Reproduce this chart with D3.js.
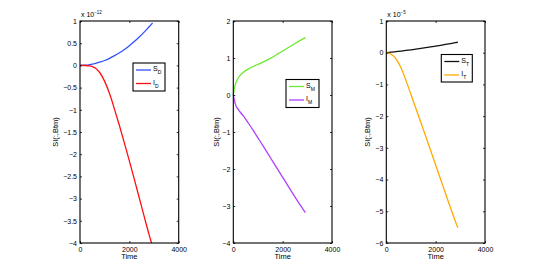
<!DOCTYPE html>
<html>
<head>
<meta charset="utf-8">
<script src="https://cdn.jsdelivr.net/npm/d3@7"></script>
<style>
  body { margin: 0; background: #fff; }
  svg { display: block; font-family: "Liberation Sans", Arial, sans-serif; }
</style>
</head>
<body>
<svg id="chart" width="545" height="273"></svg>
<script>
// panel 1 (x 1e-12)
const timeD = [0, 200, 400, 600, 800, 1000, 1200, 1400, 1600, 1800, 2000, 2200, 2400, 2600, 2800, 2900, 2940];
const sD = [0, 0.004, 0.018, 0.04, 0.072, 0.11, 0.16, 0.22, 0.285, 0.36, 0.445, 0.54, 0.64, 0.75, 0.87, 0.93, 0.96];
const iD = [0, -0.002, -0.012, -0.052, -0.16, -0.36, -0.64, -0.99, -1.36, -1.75, -2.15, -2.56, -2.98, -3.4, -3.81, -4.0, null];

// panel 2
const timeM = [0, 25, 50, 100, 200, 300, 400, 600, 800, 1000, 1200, 1500, 1800, 2100, 2400, 2700, 2920];
const sM = [0, 0.12, 0.2, 0.32, 0.46, 0.55, 0.61, 0.7, 0.77, 0.83, 0.89, 0.99, 1.11, 1.23, 1.35, 1.47, 1.55];
const iM = [0, -0.08, -0.16, -0.28, -0.39, -0.48, -0.56, -0.75, -0.95, -1.16, -1.37, -1.69, -2.01, -2.33, -2.65, -2.96, -3.18];

// panel 3 (x 1e-5)
const timeT = [0, 200, 400, 600, 800, 1000, 1200, 1400, 1600, 1800, 2000, 2200, 2400, 2600, 2800, 2900];
const sT = [0, 0.017, 0.035, 0.053, 0.072, 0.092, 0.113, 0.135, 0.158, 0.182, 0.207, 0.233, 0.26, 0.288, 0.317, 0.332];
const iT = [0, -0.05, -0.2, -0.48, -0.88, -1.32, -1.76, -2.2, -2.64, -3.09, -3.54, -3.99, -4.44, -4.89, -5.32, -5.52];

const xTicks = [0, 2000, 4000];
const yTicksD = [1, 0.5, 0, -0.5, -1, -1.5, -2, -2.5, -3, -3.5, -4];
const yTicksM = [2, 1, 0, -1, -2, -3, -4];
const yTicksT = [1, 0, -1, -2, -3, -4, -5, -6];

const panels = [
  { left: 80, time: timeD, ticks: yTicksD, dom: [-4, 1], exp: "-12",
    series: [{ v: sD, c: "#3050ff", name: "S", sub: "D" }, { v: iD, c: "#ff1010", name: "I", sub: "D" }],
    legend: [133, 63, 32, 28], ylab: 22 },
  { left: 233.3, time: timeM, ticks: yTicksM, dom: [-4, 2], exp: null,
    series: [{ v: sM, c: "#6ee830", name: "S", sub: "M" }, { v: iM, c: "#b040ff", name: "I", sub: "M" }],
    legend: [286, 79.5, 33, 28], ylab: 14 },
  { left: 386.3, time: timeT, ticks: yTicksT, dom: [-6, 1], exp: "-5",
    series: [{ v: sT, c: "#111111", name: "S", sub: "T" }, { v: iT, c: "#ffaa00", name: "I", sub: "T" }],
    legend: [441.3, 54.5, 31, 27.5], ylab: 16 }
];

const svg = d3.select("#chart");
const plotTop = 21, plotBottom = 243, w = 98.7;

panels.forEach(p => {
  const x = d3.scaleLinear().domain([0, 4000]).range([p.left, p.left + w]);
  const y = d3.scaleLinear().domain(p.dom).range([plotBottom, plotTop]);
  const g = svg.append("g");

  // lines
  p.series.forEach(s => {
    const line = d3.line()
      .defined((d, i) => s.v[i] != null)
      .x((d, i) => x(p.time[i]))
      .y((d, i) => y(s.v[i]))
      .curve(d3.curveMonotoneX);
    g.append("path")
      .datum(p.time)
      .attr("d", line)
      .attr("fill", "none")
      .attr("stroke", s.c)
      .attr("stroke-width", 1.3);
  });

  // axes (ticks inward, box)
  const fmt = d => String(d).replace("-", "\u2212");
  const axL = d3.axisLeft(y).tickValues(p.ticks).tickSize(-2).tickPadding(3).tickFormat(fmt);
  const axR = d3.axisRight(y).tickValues(p.ticks).tickSize(-2).tickFormat("");
  const axB = d3.axisBottom(x).tickValues(xTicks).tickSize(-2).tickPadding(4).tickFormat(d3.format("d"));
  const axT = d3.axisTop(x).tickValues(xTicks).tickSize(-2).tickFormat("");
  [[axL, `translate(${p.left},0)`], [axR, `translate(${p.left + w},0)`],
   [axB, `translate(0,${plotBottom})`], [axT, `translate(0,${plotTop})`]].forEach(([ax, tr]) => {
    const a = g.append("g").attr("transform", tr).call(ax);
    a.select(".domain").remove();
    a.selectAll("line").attr("stroke", "#000").attr("stroke-width", 0.8);
    a.selectAll("text").attr("font-size", 7).attr("fill", "#000");
  });
  g.append("rect")
    .attr("x", p.left).attr("y", plotTop).attr("width", w).attr("height", plotBottom - plotTop)
    .attr("fill", "none").attr("stroke", "#000").attr("stroke-width", 1.1);

  // labels
  g.append("text")
    .attr("x", x(2000)).attr("y", 259)
    .attr("text-anchor", "middle").attr("font-size", 7.5)
    .text("Time");
  g.append("text")
    .attr("transform", `translate(${p.left - p.ylab},${(plotTop + plotBottom) / 2}) rotate(-90)`)
    .attr("text-anchor", "middle").attr("font-size", 7.5)
    .text("SI(:,Btm)");
  if (p.exp) {
    const t = g.append("text").attr("x", p.left + 1).attr("y", 17).attr("font-size", 7);
    t.append("tspan").text("x 10");
    t.append("tspan").attr("dy", -3).attr("font-size", 4.5).text("\u2212" + p.exp.slice(1));
  }

  // legend
  const [lx, ly, lw, lh] = p.legend;
  const lg = g.append("g");
  lg.append("rect").attr("x", lx).attr("y", ly).attr("width", lw).attr("height", lh)
    .attr("fill", "#fff").attr("stroke", "#000").attr("stroke-width", 1.1);
  p.series.forEach((s, i) => {
    const yy = ly + 7 + i * 13.5;
    lg.append("line").attr("x1", lx + 3).attr("x2", lx + 18).attr("y1", yy).attr("y2", yy)
      .attr("stroke", s.c).attr("stroke-width", 1.3);
    const t = lg.append("text").attr("x", lx + 20).attr("y", yy + 1).attr("font-size", 7);
    t.append("tspan").text(s.name);
    t.append("tspan").attr("dy", 3).attr("font-size", 5).text(s.sub);
  });
});
</script>
</body>
</html>
